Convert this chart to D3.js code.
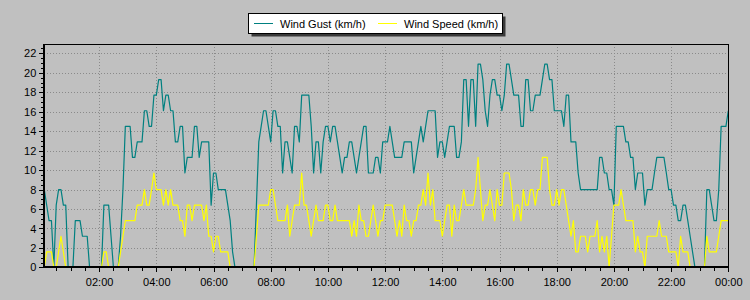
<!DOCTYPE html>
<html>
<head>
<meta charset="utf-8">
<script src="https://cdn.jsdelivr.net/npm/d3@7"></script>
<style>
  html, body { margin: 0; padding: 0; background: #C0C0C0; }
  svg { display: block; }
  text { font-family: "Liberation Sans", Arial, sans-serif; }
</style>
</head>
<body>
<svg id="chart" width="750" height="300"></svg>
<script>
// ---- data (5‑minute readings, first at 00:05, last at 24:00) ----
const startTime = "00:05";
const stepMinutes = 5;
const seriesNames = ["Wind Gust (km/h)", "Wind Speed (km/h)"];
const windGust = [
  8.0, 6.4, 4.8, 4.8, 0, 6.4, 8.0, 8.0, 6.4, 6.4, 0, 0,
  0, 4.8, 4.8, 4.8, 3.2, 3.2, 3.2, 0, 0, 0, 0, 0,
  0, 6.4, 6.4, 6.4, 3.2, 0, 0, 0, 3.2, 8.0, 14.5, 14.5,
  14.5, 11.3, 11.3, 12.9, 12.9, 12.9, 16.1, 16.1, 14.5, 14.5, 17.7, 17.7,
  19.3, 19.3, 16.1, 17.7, 17.7, 16.1, 16.1, 12.9, 12.9, 14.5, 14.5, 9.7,
  11.3, 11.3, 11.3, 14.5, 14.5, 11.3, 12.9, 12.9, 12.9, 12.9, 6.4, 9.7,
  9.7, 8.0, 8.0, 8.0, 8.0, 6.4, 4.8, 1.6, 0, 0, 0, 0,
  0, 0, 0, 0, 0, 6.4, 12.9, 14.5, 16.1, 16.1, 14.5, 12.9,
  16.1, 16.1, 14.5, 14.5, 9.7, 12.9, 12.9, 11.3, 9.7, 14.5, 14.5, 12.9,
  17.7, 17.7, 17.7, 17.7, 14.5, 9.7, 12.9, 12.9, 9.7, 12.9, 14.5, 14.5,
  12.9, 14.5, 14.5, 12.9, 11.3, 9.7, 11.3, 11.3, 12.9, 12.9, 11.3, 9.7,
  11.3, 12.9, 14.5, 14.5, 9.7, 9.7, 9.7, 11.3, 11.3, 9.7, 12.9, 12.9,
  12.9, 14.5, 12.9, 11.3, 11.3, 11.3, 11.3, 12.9, 12.9, 12.9, 12.9, 9.7,
  11.3, 12.9, 14.5, 12.9, 14.5, 16.1, 16.1, 16.1, 16.1, 11.3, 12.9, 12.9,
  11.3, 12.9, 14.5, 14.5, 14.5, 11.3, 11.3, 12.9, 19.3, 19.3, 14.5, 19.3,
  19.3, 14.5, 20.9, 20.9, 19.3, 16.1, 14.5, 17.7, 19.3, 19.3, 17.7, 17.7,
  16.1, 17.7, 20.9, 20.9, 19.3, 17.7, 17.7, 17.7, 14.5, 14.5, 19.3, 19.3,
  16.1, 16.1, 17.7, 17.7, 17.7, 19.3, 20.9, 20.9, 19.3, 19.3, 16.1, 16.1,
  16.1, 16.1, 14.5, 17.7, 17.7, 12.9, 12.9, 12.9, 9.7, 8.0, 8.0, 8.0,
  8.0, 8.0, 8.0, 8.0, 8.0, 11.3, 11.3, 9.7, 9.7, 8.0, 8.0,
  6.4, 14.5, 14.5, 14.5, 14.5, 12.9, 12.9, 11.3, 11.3, 8.0, 9.7, 9.7,
  9.7, 6.4, 8.0, 8.0, 8.0, 9.7, 11.3, 11.3, 11.3, 11.3, 9.7, 8.0,
  8.0, 6.4, 6.4, 4.8, 4.8, 6.4, 6.4, 4.8, 3.2, 1.6, 0, 0,
  0, 0, 0, 8.0, 8.0, 6.4, 4.8, 4.8, 8.0, 14.5, 14.5, 14.5, 16.1
];
const windSpeed = [
  0, 1.6, 1.6, 1.6, 0, 0, 1.6, 3.2, 1.6, 0, 0, 0,
  0, 0, 0, 0, 0, 0, 0, 0, 0, 0, 0, 0,
  0, 1.6, 1.6, 0, 0, 0, 0, 0, 1.6, 3.2, 4.8, 4.8,
  4.8, 4.8, 4.8, 6.4, 6.4, 6.4, 8.0, 6.4, 6.4, 8.0, 9.7, 8.0,
  8.0, 8.0, 6.4, 8.0, 6.4, 8.0, 6.4, 6.4, 6.4, 4.8, 4.8, 3.2,
  6.4, 6.4, 4.8, 6.4, 6.4, 6.4, 6.4, 4.8, 6.4, 3.2, 3.2, 1.6,
  3.2, 3.2, 1.6, 1.6, 1.6, 1.6, 0, 0, 0, 0, 0, 0,
  0, 0, 0, 0, 0, 3.2, 6.4, 6.4, 6.4, 6.4, 6.4, 8.0,
  8.0, 6.4, 4.8, 4.8, 4.8, 4.8, 6.4, 3.2, 4.8, 6.4, 6.4, 6.4,
  9.7, 6.4, 6.4, 4.8, 3.2, 4.8, 6.4, 4.8, 4.8, 4.8, 6.4, 6.4,
  4.8, 4.8, 6.4, 4.8, 4.8, 4.8, 4.8, 4.8, 4.8, 3.2, 4.8, 3.2,
  6.4, 4.8, 4.8, 3.2, 3.2, 4.8, 6.4, 4.8, 3.2, 4.8, 4.8, 6.4,
  6.4, 6.4, 6.4, 4.8, 3.2, 4.8, 3.2, 6.4, 4.8, 4.8, 3.2, 4.8,
  4.8, 6.4, 6.4, 8.0, 6.4, 9.7, 6.4, 8.0, 4.8, 4.8, 4.8, 3.2,
  4.8, 6.4, 6.4, 3.2, 6.4, 4.8, 4.8, 6.4, 8.0, 6.4, 6.4, 6.4,
  6.4, 8.0, 11.3, 8.0, 4.8, 6.4, 6.4, 8.0, 6.4, 4.8, 8.0, 6.4,
  6.4, 9.7, 9.7, 9.7, 8.0, 4.8, 6.4, 6.4, 4.8, 8.0, 6.4, 6.4,
  8.0, 8.0, 6.4, 8.0, 8.0, 11.3, 11.3, 11.3, 8.0, 6.4, 6.4, 8.0,
  6.4, 8.0, 8.0, 6.4, 4.8, 3.2, 4.8, 1.6, 1.6, 3.2, 3.2, 3.2,
  1.6, 3.2, 3.2, 3.2, 4.8, 1.6, 3.2, 1.6, 3.2, 0, 3.2,
  6.4, 6.4, 6.4, 8.0, 6.4, 4.8, 4.8, 4.8, 4.8, 1.6, 3.2, 1.6,
  1.6, 0, 3.2, 3.2, 3.2, 3.2, 3.2, 4.8, 3.2, 3.2, 3.2, 1.6,
  1.6, 1.6, 1.6, 0, 3.2, 1.6, 1.6, 1.6, 0, 0, 0, 0,
  0, 0, 0, 3.2, 1.6, 1.6, 1.6, 1.6, 3.2, 4.8, 4.8, 4.8, 4.8
];
const yTickValues = [0, 2, 4, 6, 8, 10, 12, 14, 16, 18, 20, 22];
const yMax = 22.93;
const xTickLabels = ["02:00","04:00","06:00","08:00","10:00","12:00","14:00","16:00","18:00","20:00","22:00","00:00"];

// ---- layout ----
const L = 44.3, R = 728.3, T = 44.3, B = 267.4;
const svg = d3.select("#chart");
svg.append("rect").attr("width", 750).attr("height", 300).attr("fill", "#C0C0C0");

const [sh, sm] = startTime.split(":").map(Number);
const t0 = Date.UTC(2024, 0, 1, sh, sm);
const times = windGust.map((_, i) => new Date(t0 + i * stepMinutes * 60000));
const x = d3.scaleUtc().domain([times[0], times[times.length - 1]]).range([L, R]);
const y = d3.scaleLinear().domain([0, yMax]).range([B, T]);

const dayStart = Date.UTC(2024, 0, 1, 0, 0);
const majorX = xTickLabels.map((_, i) => new Date(dayStart + (i + 1) * 2 * 3600000));
const minorX = d3.range(1, 48).map(i => new Date(dayStart + i * 30 * 60000)).filter(d => d >= times[0]);
const minorY = d3.range(0, yMax, 0.5);

// grid
const grid = svg.append("g").attr("stroke", "#8a8a8a").attr("stroke-width", 1)
  .attr("stroke-dasharray", "1,2").attr("shape-rendering", "crispEdges");
grid.selectAll("line.h").data(yTickValues.filter(v => v > 0)).join("line")
  .attr("x1", L).attr("x2", R).attr("y1", d => Math.round(y(d)) + 0.5).attr("y2", d => Math.round(y(d)) + 0.5);
grid.selectAll("line.v").data(majorX.slice(0, -1)).join("line")
  .attr("y1", T).attr("y2", B).attr("x1", d => Math.round(x(d)) + 0.5).attr("x2", d => Math.round(x(d)) + 0.5);

// axes
const yMinorAxis = d3.axisLeft(y).tickValues(minorY).tickSize(2).tickFormat("");
const yAxis = d3.axisLeft(y).tickValues(yTickValues).tickSize(4).tickPadding(3).tickFormat(d3.format("d"));
const xMinorAxis = d3.axisBottom(x).tickValues(minorX).tickSize(3).tickFormat("");
const xAxis = d3.axisBottom(x).tickValues(majorX).tickSize(4).tickPadding(6)
  .tickFormat((d, i) => xTickLabels[i]);

function style(g) {
  g.select(".domain").remove();
  g.selectAll(".tick line").attr("stroke", "#000").attr("shape-rendering", "crispEdges");
  g.selectAll(".tick text").attr("fill", "#000").attr("font-size", "11px")
    .attr("font-family", "'Liberation Sans', Arial, sans-serif");
}
svg.append("g").attr("transform", `translate(${L - 1},0)`).call(yMinorAxis).call(style);
svg.append("g").attr("transform", `translate(${L - 1},0)`).call(yAxis).call(style);
svg.append("g").attr("transform", `translate(0,${B + 1})`).call(xMinorAxis).call(style);
svg.append("g").attr("transform", `translate(0,${B + 1})`).call(xAxis).call(style);

// series lines
const line = d3.line().x((d, i) => x(times[i])).y(d => y(d));
svg.append("path").datum(windGust).attr("fill", "none").attr("stroke", "#008080")
  .attr("stroke-width", 1.2).attr("stroke-linejoin", "round").attr("d", line);
svg.append("path").datum(windSpeed).attr("fill", "none").attr("stroke", "#FFFF00")
  .attr("stroke-width", 1.2).attr("stroke-linejoin", "round").attr("d", line);

// frame
const frame = svg.append("g").attr("stroke", "#000").attr("shape-rendering", "crispEdges");
frame.append("line").attr("x1", L).attr("x2", R).attr("y1", T).attr("y2", T).attr("stroke-width", 1.5);
frame.append("line").attr("x1", R).attr("x2", R).attr("y1", T).attr("y2", B).attr("stroke-width", 1.5);
frame.append("line").attr("x1", L).attr("x2", L).attr("y1", T).attr("y2", B + 1).attr("stroke-width", 2);
frame.append("line").attr("x1", L - 1).attr("x2", R + 1).attr("y1", B).attr("y2", B).attr("stroke-width", 2);

// legend
const lg = svg.append("g");
lg.append("rect").attr("x", 251.5).attr("y", 16.5).attr("width", 254).attr("height", 20).attr("fill", "#3a3a3a");
lg.append("rect").attr("x", 248.5).attr("y", 13.5).attr("width", 254).attr("height", 20)
  .attr("fill", "#fff").attr("stroke", "#000").attr("stroke-width", 1);
const legendItems = [
  { name: seriesNames[0], color: "#008080", x: 254 },
  { name: seriesNames[1], color: "#FFFF00", x: 378 }
];
legendItems.forEach(it => {
  lg.append("line").attr("x1", it.x).attr("x2", it.x + 19).attr("y1", 23.5).attr("y2", 23.5)
    .attr("stroke", it.color).attr("stroke-width", 1);
  lg.append("text").attr("x", it.x + 26).attr("y", 27.5).attr("font-size", "11px").attr("fill", "#000")
    .text(it.name);
});
</script>
</body>
</html>
